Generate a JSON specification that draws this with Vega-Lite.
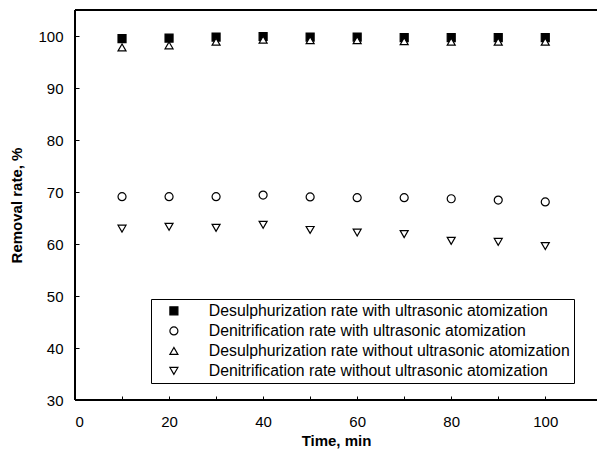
{
  "$schema": "https://vega.github.io/schema/vega-lite/v6.json",
  "width": 522,
  "height": 390,
  "autosize": {"type": "none"},
  "padding": {"left": 75, "top": 10, "right": 0, "bottom": 57},
  "background": "white",
  "config": {
    "view": {"stroke": null},
    "font": "Liberation Sans",
    "axis": {
      "domain": true,
      "ticks": true,
      "zindex": 1,
      "domainColor": "black",
      "tickColor": "black",
      "labelColor": "black",
      "titleColor": "black",
      "labelFontSize": 15,
      "titleFontSize": 15,
      "titleFontWeight": "bold",
      "grid": false,
      "tickSize": -4
    },
    "legend": {
      "labelFontSize": 15.8,
      "labelColor": "black",
      "labelLimit": 0
    }
  },
  "data": {
    "values": [
      {"t": 10, "rate": 99.5, "series": "Desulphurization rate with ultrasonic atomization"},
      {"t": 20, "rate": 99.6, "series": "Desulphurization rate with ultrasonic atomization"},
      {"t": 30, "rate": 99.8, "series": "Desulphurization rate with ultrasonic atomization"},
      {"t": 40, "rate": 99.9, "series": "Desulphurization rate with ultrasonic atomization"},
      {"t": 50, "rate": 99.8, "series": "Desulphurization rate with ultrasonic atomization"},
      {"t": 60, "rate": 99.8, "series": "Desulphurization rate with ultrasonic atomization"},
      {"t": 70, "rate": 99.7, "series": "Desulphurization rate with ultrasonic atomization"},
      {"t": 80, "rate": 99.7, "series": "Desulphurization rate with ultrasonic atomization"},
      {"t": 90, "rate": 99.7, "series": "Desulphurization rate with ultrasonic atomization"},
      {"t": 100, "rate": 99.7, "series": "Desulphurization rate with ultrasonic atomization"},
      {"t": 10, "rate": 69.1, "series": "Denitrification rate with ultrasonic atomization"},
      {"t": 20, "rate": 69.1, "series": "Denitrification rate with ultrasonic atomization"},
      {"t": 30, "rate": 69.1, "series": "Denitrification rate with ultrasonic atomization"},
      {"t": 40, "rate": 69.4, "series": "Denitrification rate with ultrasonic atomization"},
      {"t": 50, "rate": 69.05, "series": "Denitrification rate with ultrasonic atomization"},
      {"t": 60, "rate": 68.9, "series": "Denitrification rate with ultrasonic atomization"},
      {"t": 70, "rate": 68.9, "series": "Denitrification rate with ultrasonic atomization"},
      {"t": 80, "rate": 68.7, "series": "Denitrification rate with ultrasonic atomization"},
      {"t": 90, "rate": 68.45, "series": "Denitrification rate with ultrasonic atomization"},
      {"t": 100, "rate": 68.1, "series": "Denitrification rate with ultrasonic atomization"},
      {"t": 10, "rate": 97.8, "series": "Desulphurization rate without ultrasonic atomization"},
      {"t": 20, "rate": 98.2, "series": "Desulphurization rate without ultrasonic atomization"},
      {"t": 30, "rate": 98.9, "series": "Desulphurization rate without ultrasonic atomization"},
      {"t": 40, "rate": 99.3, "series": "Desulphurization rate without ultrasonic atomization"},
      {"t": 50, "rate": 99.2, "series": "Desulphurization rate without ultrasonic atomization"},
      {"t": 60, "rate": 99.2, "series": "Desulphurization rate without ultrasonic atomization"},
      {"t": 70, "rate": 99.0, "series": "Desulphurization rate without ultrasonic atomization"},
      {"t": 80, "rate": 98.9, "series": "Desulphurization rate without ultrasonic atomization"},
      {"t": 90, "rate": 98.9, "series": "Desulphurization rate without ultrasonic atomization"},
      {"t": 100, "rate": 98.9, "series": "Desulphurization rate without ultrasonic atomization"},
      {"t": 10, "rate": 62.95, "series": "Denitrification rate without ultrasonic atomization"},
      {"t": 20, "rate": 63.3, "series": "Denitrification rate without ultrasonic atomization"},
      {"t": 30, "rate": 63.1, "series": "Denitrification rate without ultrasonic atomization"},
      {"t": 40, "rate": 63.7, "series": "Denitrification rate without ultrasonic atomization"},
      {"t": 50, "rate": 62.7, "series": "Denitrification rate without ultrasonic atomization"},
      {"t": 60, "rate": 62.2, "series": "Denitrification rate without ultrasonic atomization"},
      {"t": 70, "rate": 61.9, "series": "Denitrification rate without ultrasonic atomization"},
      {"t": 80, "rate": 60.6, "series": "Denitrification rate without ultrasonic atomization"},
      {"t": 90, "rate": 60.4, "series": "Denitrification rate without ultrasonic atomization"},
      {"t": 100, "rate": 59.6, "series": "Denitrification rate without ultrasonic atomization"}
    ]
  },
  "layer": [
    {
      "mark": {"type": "point", "filled": true, "stroke": "black", "strokeWidth": 1.2, "opacity": 1, "size": 64},
      "encoding": {
        "x": {
          "field": "t", "type": "quantitative",
          "scale": {"domain": [0, 111], "nice": false, "zero": false},
          "axis": {
            "title": "Time, min",
            "values": [0, 10, 20, 30, 40, 50, 60, 70, 80, 90, 100],
            "labelExpr": "datum.value % 20 == 0 ? datum.label : ''",
            "labelPadding": 18,
            "titlePadding": 4
          }
        },
        "y": {
          "field": "rate", "type": "quantitative",
          "scale": {"domain": [30, 105], "nice": false, "zero": false},
          "axis": {
            "title": "Removal rate, %",
            "values": [30, 35, 40, 45, 50, 55, 60, 65, 70, 75, 80, 85, 90, 95, 100],
            "labelExpr": "datum.value % 10 == 0 ? datum.label : ''",
            "labelPadding": 16,
            "titlePadding": 13
          }
        },
        "shape": {
          "field": "series", "type": "nominal",
          "scale": {
            "domain": [
              "Desulphurization rate with ultrasonic atomization",
              "Denitrification rate with ultrasonic atomization",
              "Desulphurization rate without ultrasonic atomization",
              "Denitrification rate without ultrasonic atomization"
            ],
            "range": ["square", "circle", "triangle-up", "triangle-down"]
          },
          "legend": {
            "title": null,
            "orient": "none",
            "legendX": 76,
            "legendY": 289,
            "strokeColor": "black",
            "padding": 4,
            "symbolOffset": 11,
            "labelOffset": 27,
            "rowPadding": 3,
            "symbolSize": 64,
            "symbolStrokeWidth": 1.2,
            "symbolStrokeColor": "black"
          }
        },
        "color": {
          "field": "series", "type": "nominal",
          "scale": {
            "domain": [
              "Desulphurization rate with ultrasonic atomization",
              "Denitrification rate with ultrasonic atomization",
              "Desulphurization rate without ultrasonic atomization",
              "Denitrification rate without ultrasonic atomization"
            ],
            "range": ["black", "white", "white", "white"]
          },
          "legend": {
            "title": null,
            "orient": "none",
            "legendX": 76,
            "legendY": 289,
            "strokeColor": "black",
            "padding": 4,
            "symbolOffset": 11,
            "labelOffset": 27,
            "rowPadding": 3,
            "symbolSize": 64,
            "symbolStrokeWidth": 1.2,
            "symbolStrokeColor": "black"
          }
        }
      }
    },
    {
      "mark": {"type": "rule", "color": "black"},
      "encoding": {"y": {"datum": 105, "type": "quantitative"}}
    },
    {
      "mark": {"type": "rule", "color": "black", "strokeWidth": 1.3},
      "encoding": {"y": {"datum": 30, "type": "quantitative"}}
    },
    {
      "mark": {"type": "rule", "color": "black", "strokeWidth": 1.3},
      "encoding": {"x": {"datum": 0, "type": "quantitative"}}
    }
  ]
}
